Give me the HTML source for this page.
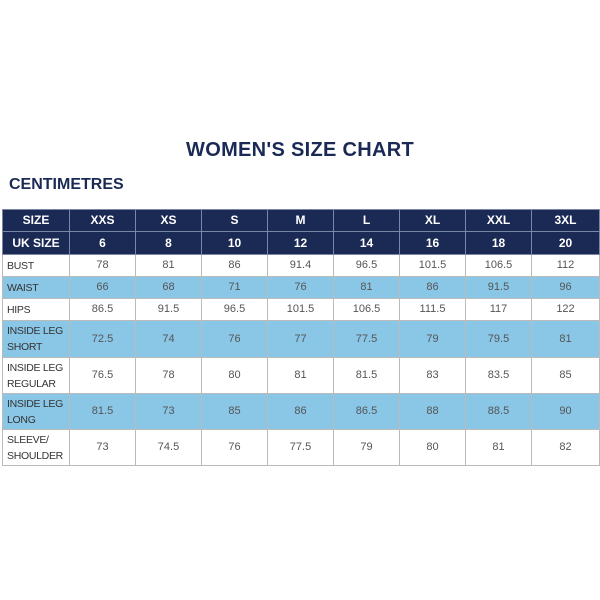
<!DOCTYPE html>
<html><head><style>
body{margin:0;width:600px;height:600px;background:#fff;position:relative;font-family:"Liberation Sans",sans-serif;overflow:hidden}
.t{position:absolute;left:0;width:600px;top:139px;text-align:center;color:#1b2a55;font-weight:bold;font-size:20px;letter-spacing:0.3px}
.c{position:absolute;left:9px;top:176px;color:#1b2a55;font-weight:bold;font-size:16px}
table{position:absolute;left:2px;top:209px;border-collapse:collapse;width:597px;table-layout:fixed}
td{border:1px solid #bbb;text-align:center;font-size:11px;color:#555;padding:0;line-height:13px;box-sizing:border-box;overflow:hidden}
td:first-child{text-align:left;padding-left:4px;color:#333;font-size:10.5px;letter-spacing:-0.3px;white-space:nowrap;line-height:16px}
tr.h td{background:#1b2a55;color:#fff;font-weight:bold;font-size:12px;border-color:#7a86a6;text-align:center;padding-left:0;letter-spacing:0;line-height:13px}
tr.b td{background:#8ac6e6}
</style></head><body>
<div class="t">WOMEN'S SIZE CHART</div>
<div class="c">CENTIMETRES</div>
<table>
<colgroup><col style="width:67px"><col style="width:66px"><col style="width:66px"><col style="width:66px"><col style="width:66px"><col style="width:66px"><col style="width:66px"><col style="width:66px"><col style="width:68px"></colgroup>
<tr class="h" style="height:22px"><td>SIZE</td><td>XXS</td><td>XS</td><td>S</td><td>M</td><td>L</td><td>XL</td><td>XXL</td><td>3XL</td></tr>
<tr class="h" style="height:23px"><td>UK SIZE</td><td>6</td><td>8</td><td>10</td><td>12</td><td>14</td><td>16</td><td>18</td><td>20</td></tr>
<tr style="height:22px"><td>BUST</td><td>78</td><td>81</td><td>86</td><td>91.4</td><td>96.5</td><td>101.5</td><td>106.5</td><td>112</td></tr>
<tr class="b" style="height:22px"><td>WAIST</td><td>66</td><td>68</td><td>71</td><td>76</td><td>81</td><td>86</td><td>91.5</td><td>96</td></tr>
<tr style="height:22px"><td>HIPS</td><td>86.5</td><td>91.5</td><td>96.5</td><td>101.5</td><td>106.5</td><td>111.5</td><td>117</td><td>122</td></tr>
<tr class="b" style="height:37px"><td>INSIDE LEG<br>SHORT</td><td>72.5</td><td>74</td><td>76</td><td>77</td><td>77.5</td><td>79</td><td>79.5</td><td>81</td></tr>
<tr style="height:36px"><td>INSIDE LEG<br>REGULAR</td><td>76.5</td><td>78</td><td>80</td><td>81</td><td>81.5</td><td>83</td><td>83.5</td><td>85</td></tr>
<tr class="b" style="height:36px"><td>INSIDE LEG<br>LONG</td><td>81.5</td><td>73</td><td>85</td><td>86</td><td>86.5</td><td>88</td><td>88.5</td><td>90</td></tr>
<tr style="height:36px"><td>SLEEVE/<br>SHOULDER</td><td>73</td><td>74.5</td><td>76</td><td>77.5</td><td>79</td><td>80</td><td>81</td><td>82</td></tr>
</table>
</body></html>
